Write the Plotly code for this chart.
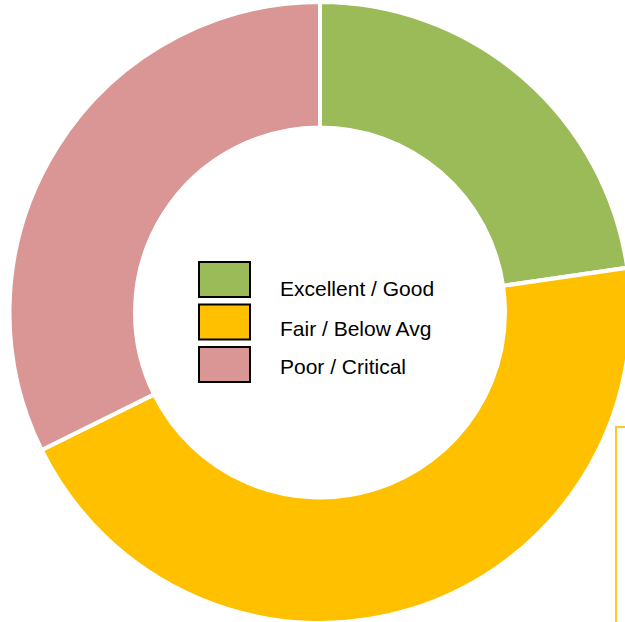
import plotly.graph_objects as go

# ---- data ----
labels = ["Excellent / Good", "Fair / Below Avg", "Poor / Critical"]
values = [22.7, 45.0, 32.3]
colors = ["#9BBB59", "#FFC000", "#D99694"]

W, H = 640, 630

def px_x(x):
    return x / W

def px_y(y):
    return 1 - y / H

cx, cy, r = 320, 312.5, 310.5
lw = 4
hole = (187 - lw / 2) / r

fig = go.Figure()
fig.add_trace(go.Pie(
    labels=labels,
    values=values,
    marker=dict(colors=colors, line=dict(color="white", width=lw)),
    hole=hole,
    sort=False,
    direction="clockwise",
    rotation=0,
    textinfo="none",
    hoverinfo="label+percent",
    showlegend=False,
    domain=dict(x=[px_x(cx - r), px_x(cx + r)], y=[px_y(cy + r), px_y(cy - r)]),
))

shapes = []
annotations = []
box_tops = [262, 304.5, 347]
text_ys = [289, 328, 366]
for lab, col, bt, ty in zip(labels, colors, box_tops, text_ys):
    shapes.append(dict(type="rect", xref="paper", yref="paper",
                       x0=px_x(199), x1=px_x(250), y0=px_y(bt), y1=px_y(bt + 35),
                       fillcolor=col, line=dict(color="black", width=2)))
    annotations.append(dict(text=lab, xref="paper", yref="paper",
                            x=px_x(278), y=px_y(ty), xanchor="left", yanchor="middle",
                            showarrow=False, font=dict(family="Arial", size=21, color="black")))

# partially visible framed box at bottom-right
shapes.append(dict(type="rect", xref="paper", yref="paper",
                   x0=px_x(616), x1=px_x(760), y0=px_y(427), y1=px_y(760),
                   fillcolor="rgba(0,0,0,0)", line=dict(color="#FFC829", width=2)))

fig.update_layout(
    width=W, height=H,
    margin=dict(l=0, r=0, t=0, b=0),
    paper_bgcolor="white",
    plot_bgcolor="white",
    shapes=shapes,
    annotations=annotations,
)

fig.write_html("out.html", config={"displayModeBar": False},
               post_script="document.body.style.margin='0';document.body.style.overflow='hidden';")
